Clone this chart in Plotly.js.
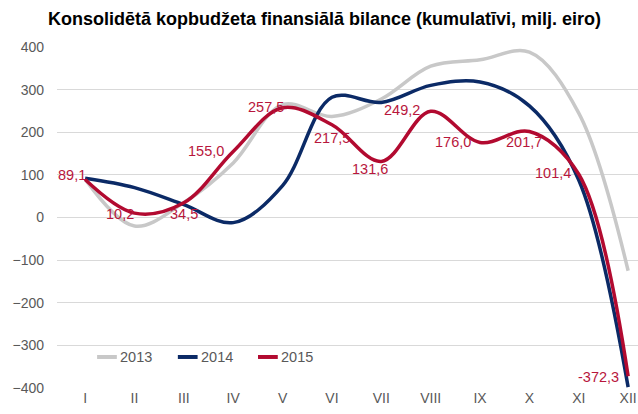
<!DOCTYPE html>
<html>
<head>
<meta charset="utf-8">
<script src="https://cdn.plot.ly/plotly-3.0.1.min.js"></script>
<style>html,body{margin:0;padding:0;background:#fff;}#chart{width:638px;height:414px;}</style>
</head>
<body>
<div id="chart"></div>
<script>
const months = ["I","II","III","IV","V","VI","VII","VIII","IX","X","XI","XII"];
const seriesNames = ["2013","2014","2015"];
const y2013 = [90, -20, 35, 128, 265, 237, 278, 355, 370, 388, 245, -125];
const y2014 = [92, 70, 30, -12, 75, 282, 270, 310, 318, 262, 88, -398];
const y2015 = [89.1, 10.2, 34.5, 155.0, 257.5, 217.5, 131.6, 249.2, 176.0, 201.7, 101.4, -372.3];
const labels2015 = ["89,1","10,2","34,5","155,0","257,5","217,5","131,6","249,2","176,0","201,7","101,4","-372,3"];
// label offsets in pixels [xshift, yshift]
const labelShift = [[-13,5],[-15,-1],[0,-11],[-27,0],[-17,1],[0,-13],[-11,-8],[-29,1],[-27,0],[-5,-10],[-26,1],[-30,-1]];

const colors = ["#C8C8C8","#0B2A66","#B20A30"];
const font = "Liberation Sans, Arial, sans-serif";
const ys = [y2013, y2014, y2015];
const traces = seriesNames.map((n,k) => ({
  type:"scatter", mode:"lines", name:n, x:months, y:ys[k],
  line:{color:colors[k], width:3.5, shape:"spline", smoothing:1},
  cliponaxis:false, hoverinfo:"skip", showlegend:false
}));

const annotations = labels2015.map((txt,i) => ({
  x: months[i], y: y2015[i], xref:"x", yref:"y", text: txt, showarrow:false,
  xshift: labelShift[i][0], yshift: labelShift[i][1],
  font:{family:font, size:14.5, color:"#B8163C"}
}));
annotations.push({
  xref:"paper", yref:"paper", x:0.461, y:1, yshift:28, xanchor:"center", yanchor:"middle",
  showarrow:false, text:"<b>Konsolidētā kopbudžeta finansiālā bilance (kumulatīvi, milj. eiro)</b>",
  font:{family:"Liberation Sans Narrow, Arial Narrow, sans-serif", size:18, color:"#000"}
});

// custom legend (short line samples like the original)
const legX = [0.069, 0.208, 0.346];
const legLen = 0.034;
const legY = 0.091;
const shapes = [];
seriesNames.forEach((n,k) => {
  shapes.push({type:"line", xref:"paper", yref:"paper", x0:legX[k], x1:legX[k]+legLen, y0:legY, y1:legY,
    line:{color:colors[k], width:4}});
  annotations.push({xref:"paper", yref:"paper", x:legX[k]+legLen+0.002, y:legY, xanchor:"left", yanchor:"middle",
    showarrow:false, text:n, font:{family:font, size:14.5, color:"#595959"}});
});

const layout = {
  width:638, height:414,
  margin:{l:57, r:0, t:47, b:26},
  paper_bgcolor:"#fff", plot_bgcolor:"#fff",
  showlegend:false,
  xaxis:{type:"category", range:[-0.57, 11.2], showgrid:false, zeroline:false,
    showline:false, ticks:"", tickfont:{family:font, size:14, color:"#595959"}, fixedrange:true},
  yaxis:{range:[-400,400], tickvals:[-400,-300,-200,-100,0,100,200,300,400],
    showgrid:true, gridcolor:"#D9D9D9", gridwidth:1, zeroline:false, showline:false,
    ticks:"", ticklabelstandoff:12, tickfont:{family:font, size:14, color:"#595959"}, fixedrange:true},
  annotations: annotations,
  shapes: shapes
};
Plotly.newPlot("chart", traces, layout, {staticPlot:true});
</script>
</body>
</html>
